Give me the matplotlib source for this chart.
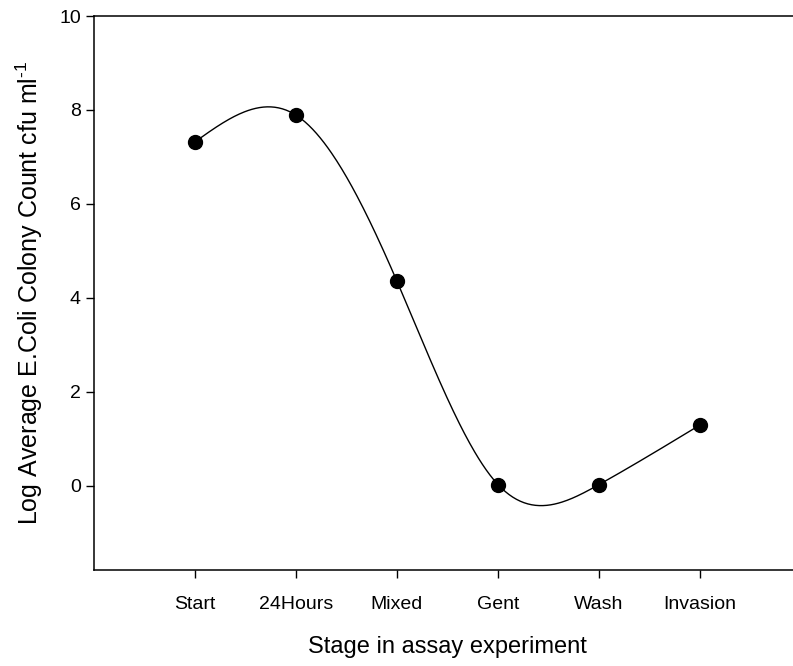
import numpy as np
import matplotlib.pyplot as plt

plt.rcParams['font.family'] = ['Liberation Sans', 'DejaVu Sans']
plt.rcParams['mathtext.fontset'] = 'custom'
plt.rcParams['mathtext.rm'] = 'Liberation Sans'
plt.rcParams['mathtext.it'] = 'Liberation Sans'

stages = ["Start", "24Hours", "Mixed", "Gent", "Wash", "Invasion"]
log_counts = [7.32, 7.89, 4.35, 0.02, 0.02, 1.29]


def natural_spline(x, y, n=400):
    x = np.asarray(x, float)
    y = np.asarray(y, float)
    k = len(x)
    h = np.diff(x)
    A = np.zeros((k, k))
    b = np.zeros(k)
    A[0, 0] = A[-1, -1] = 1
    for i in range(1, k - 1):
        A[i, i - 1] = h[i - 1]
        A[i, i] = 2 * (h[i - 1] + h[i])
        A[i, i + 1] = h[i]
        b[i] = 6 * ((y[i + 1] - y[i]) / h[i] - (y[i] - y[i - 1]) / h[i - 1])
    m = np.linalg.solve(A, b)
    xs = np.linspace(x[0], x[-1], n)
    idx = np.clip(np.searchsorted(x, xs) - 1, 0, k - 2)
    x0, x1 = x[idx], x[idx + 1]
    hh = x1 - x0
    t0, t1 = x1 - xs, xs - x0
    ys = (m[idx] * t0**3 + m[idx + 1] * t1**3) / (6 * hh) \
        + (y[idx] / hh - m[idx] * hh / 6) * t0 \
        + (y[idx + 1] / hh - m[idx + 1] * hh / 6) * t1
    return xs, ys


xpos = np.arange(1, len(stages) + 1)
xs, ys = natural_spline(xpos, log_counts)

fig = plt.figure(figsize=(7.93, 6.66), dpi=100)
ax = fig.add_axes([0.1185, 0.1441, 0.8916, 0.8318])

ax.plot(xs, ys, color="black", lw=1.0)
ax.plot(xpos, log_counts, "o", color="black", markersize=10)

ax.set_xlim(0, 7)
ax.set_ylim(-1.8, 10)
ax.set_xticks(xpos)
ax.set_xticklabels(stages)
ax.set_yticks([0, 2, 4, 6, 8, 10])

for s in ["left", "bottom", "top"]:
    ax.spines[s].set_linewidth(1.1)
ax.spines["right"].set_visible(False)
ax.tick_params(direction="out", length=5.5, width=1.0, labelsize=14, pad=4,
               top=False, right=False)
ax.tick_params(axis="x", pad=13)

ax.set_xlabel("Stage in assay experiment", fontsize=17, labelpad=17)
ax.set_ylabel(r"Log Average E.Coli Colony Count cfu ml$^{\text{-}1}$",
              fontsize=18, labelpad=10)

plt.savefig("out.png", dpi=100)
